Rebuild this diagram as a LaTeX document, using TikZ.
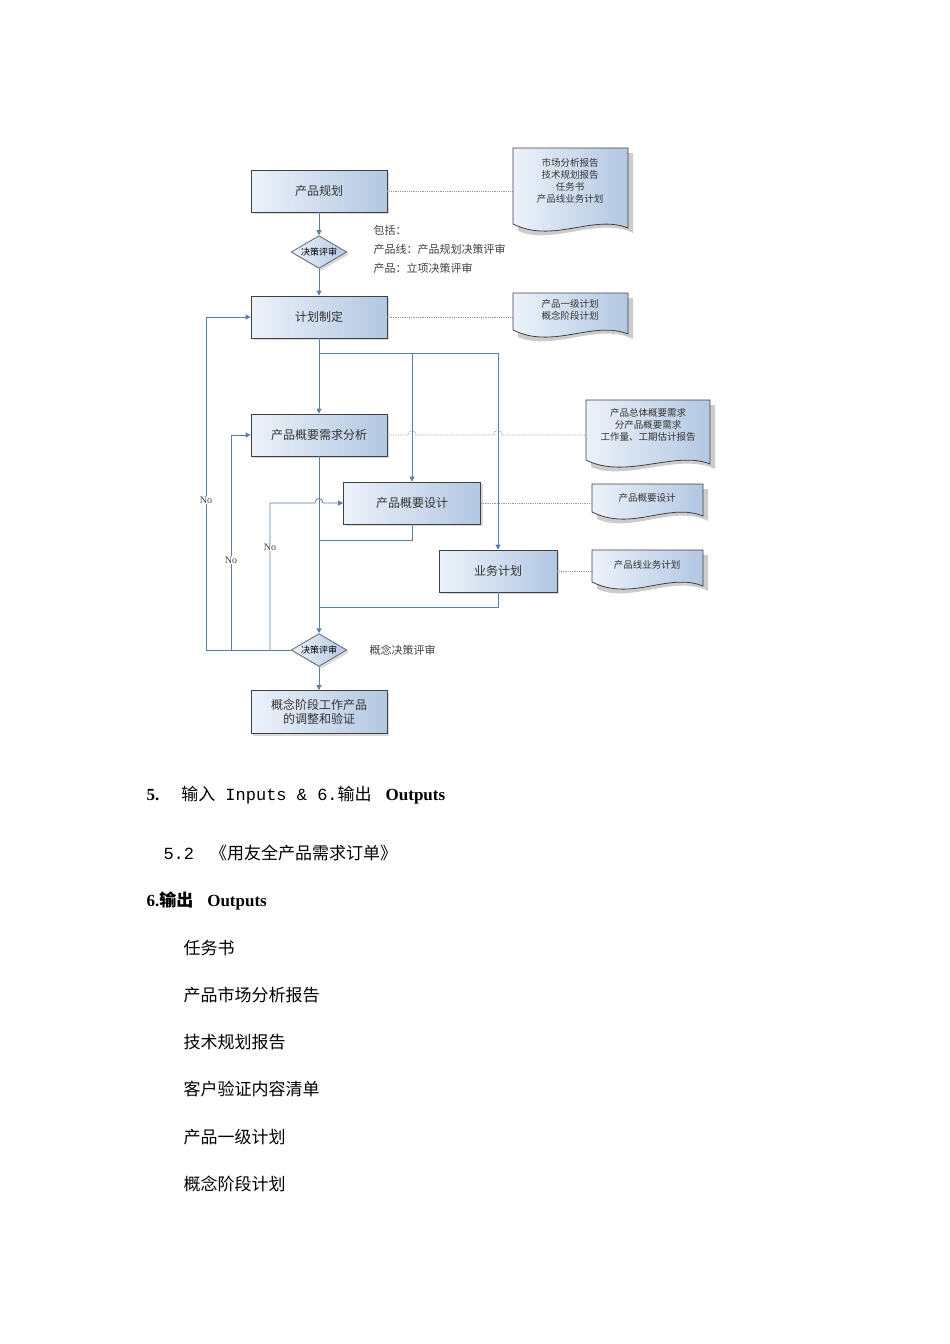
\documentclass[tikz,border=0pt]{standalone}
\usepackage{fontspec}
\setmainfont{Liberation Serif}
\newfontfamily\cjk{Noto Sans CJK SC}
\newfontfamily\mono{Liberation Mono}
\usetikzlibrary{shapes.geometric,shadows,arrows.meta}
\definecolor{boxlight}{RGB}{236,242,250}
\definecolor{boxdark}{RGB}{178,199,226}
\definecolor{flowblue}{RGB}{90,125,170}
\tikzset{
  box/.style={draw=black!75,thick,minimum width=136pt,minimum height=42pt,
    left color=boxlight,right color=boxdark,drop shadow={opacity=0.3},
    font=\cjk\fontsize{12}{14}\selectfont,text=black!80,align=center},
  dec/.style={diamond,draw=black!60,thick,aspect=1.7,inner sep=1pt,
    left color=boxlight,right color=boxdark,drop shadow={opacity=0.3},
    font=\cjk\fontsize{9}{10}\selectfont},
  flow/.style={draw=flowblue,thick,-{Triangle[length=5pt,width=5pt]}},
  link/.style={draw=flowblue,thick},
  dot/.style={draw=black!40,densely dotted,thick},
  dtxt/.style={font=\cjk\fontsize{9.5}{12}\selectfont,align=center,text=black!80},
  lbl/.style={font=\fontsize{10}{12}\selectfont,text=black!75},
  body/.style={font=\fontsize{17}{20}\selectfont,anchor=west}
}
\newcommand\docpath[4]{%
  \fill[black!20] (#1+5,#2+5) -- (#3+5,#2+5) -- (#3+5,#4+5) .. controls (#3-30,#4-12) and (#1+40,#4+18) .. (#1+5,#4+3) -- cycle;
  \draw[black!75,thick,left color=boxlight,right color=boxdark] (#1,#2) -- (#3,#2) -- (#3,#4) .. controls (#3-35,#4-14) and (#1+40,#4+16) .. (#1,#4-4) -- cycle;}
\begin{document}
\begin{tikzpicture}[x=1pt,y=-1pt]
\useasboundingbox (0,0) rectangle (950,1344);
% documents
\docpath{513}{148}{628}{228}
\docpath{513}{293}{628}{334}
\docpath{586}{400}{710}{464}
\docpath{592}{484}{703}{516}
\docpath{592}{550}{703}{586}
\node[dtxt] (d1) at (570,181) {市场分析报告\\技术规划报告\\任务书\\产品线业务计划};
\node[dtxt] (d2) at (570,310) {产品一级计划\\概念阶段计划};
\node[dtxt] (d3) at (648,425) {产品总体概要需求\\分产品概要需求\\工作量、工期估计报告};
\node[dtxt] (d4) at (647,498) {产品概要设计};
\node[dtxt] (d5) at (647,565) {产品线业务计划};
% process
\node[box] (plan) at (319,191) {产品规划};
\node[dec] (rev1) at (319,252) {决策评审};
\node[box] (make) at (319,317) {计划制定};
\node[box] (req) at (319,435) {产品概要需求分析};
\node[box,minimum width=137pt] (des) at (412,503) {产品概要设计};
\node[box,minimum width=118pt] (biz) at (498,571) {业务计划};
\node[dec] (rev2) at (319,650) {决策评审};
\node[box,minimum height=43pt] (out) at (319,712) {概念阶段工作产品\\的调整和验证};
\node[font=\cjk\fontsize{11}{19}\selectfont,align=left,anchor=north west,text=black!75] (note) at (370,222) {包括：\\产品线：产品规划决策评审\\产品：立项决策评审};
\node[font=\cjk\fontsize{11}{13}\selectfont,text=black!75,anchor=west] (rev2t) at (366,650) {概念决策评审};
% dotted links
\draw[dot] (plan.east) -- (513,191);
\draw[dot] (make.east) -- (513,317);
\draw[dot] (req.east) -- (408,435) .. controls (408,429) and (416,429) .. (416,435) -- (494,435) .. controls (494,429) and (502,429) .. (502,435) -- (586,435);
\draw[dot] (des.east) -- (592,503);
\draw[dot] (biz.east) -- (592,571);
% flow
\coordinate (s0) at (319,353);
\coordinate (s1) at (412,353);
\coordinate (s2) at (498,353);
\draw[flow] (plan) -- (rev1);
\draw[flow] (rev1) -- (make);
\draw[flow] (make) -- (req);
\draw[link] (s0) -- (s2);
\draw[flow] (s1) -- (des);
\draw[flow] (s2) -- (biz);
\draw[flow] (req) -- (rev2);
\draw[link] (des.south) -- (412,540) -- (319,540);
\draw[link] (biz.south) -- (498,607) -- (319,607);
\draw[flow] (rev2) -- (out);
\draw[flow] (rev2.west) -- (206,650) -- (206,317) -- (make.west);
\draw[flow] (231,650) -- (231,435) -- (req.west);
\draw[flow] (270,650) -- (270,503) -- (315,503) .. controls (315,497) and (323,497) .. (323,503) -- (des.west);
\node[lbl,fill=white,inner sep=1pt] (no1) at (206,500) {No};
\node[lbl,fill=white,inner sep=1pt] (no2) at (231,560) {No};
\node[lbl,fill=white,inner sep=1pt] (no3) at (270,547) {No};
% text below
\node[body,anchor=west] (h1) at (143,795) {\textbf{5.}\hspace{22pt}{\cjk 输入}{\mono\ Inputs \& 6.}{\cjk 输出}\hspace{14pt}\textbf{Outputs}};
\node[body] (i0) at (160,853) {{\mono 5.2}\hspace{16pt}{\cjk 《用友全产品需求订单》}};
\node[body] (h2) at (143,901) {\textbf{6.}{\cjk\bfseries 输出}\hspace{14pt}\textbf{Outputs}};
\node[body,font=\cjk\fontsize{17}{20}\selectfont] (i1) at (180,948) {任务书};
\node[body,font=\cjk\fontsize{17}{20}\selectfont] (i2) at (180,995) {产品市场分析报告};
\node[body,font=\cjk\fontsize{17}{20}\selectfont] (i3) at (180,1042) {技术规划报告};
\node[body,font=\cjk\fontsize{17}{20}\selectfont] (i4) at (180,1089) {客户验证内容清单};
\node[body,font=\cjk\fontsize{17}{20}\selectfont] (i5) at (180,1137) {产品一级计划};
\node[body,font=\cjk\fontsize{17}{20}\selectfont] (i6) at (180,1184) {概念阶段计划};
\end{tikzpicture}
\end{document}
